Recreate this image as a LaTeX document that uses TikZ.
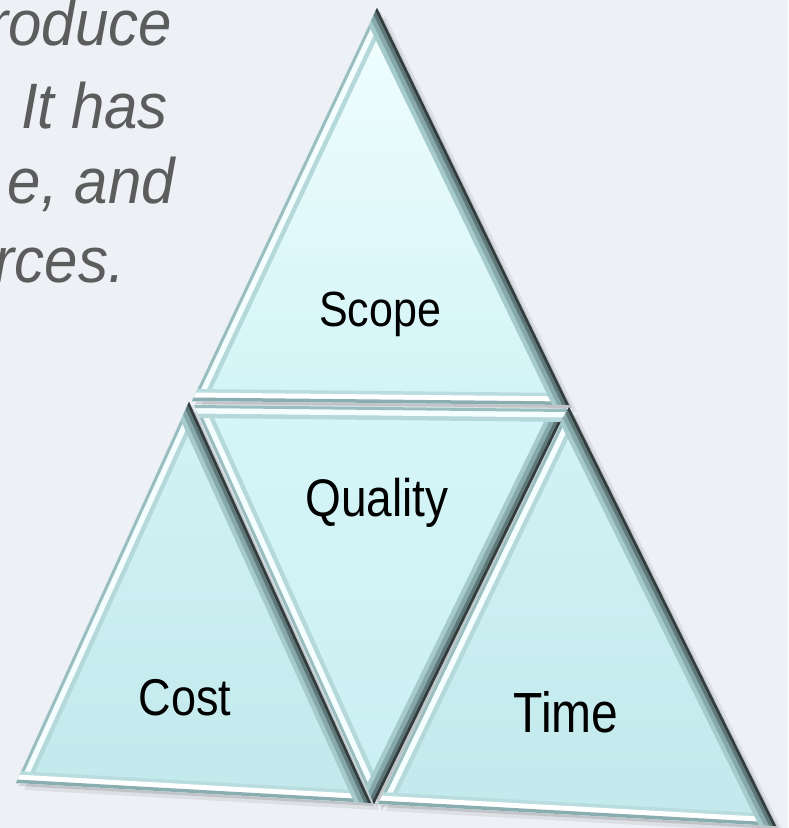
\documentclass[tikz,border=0pt]{standalone}
\usepackage{fontspec}
\setmainfont{Liberation Sans}
\usepackage{graphicx}
\definecolor{bg}{HTML}{EDF1F5}
\definecolor{sidegray}{HTML}{5C5C5C}
\definecolor{lA}{HTML}{B5D8DA}
\definecolor{lB}{HTML}{F4FEFE}
\definecolor{lC}{HTML}{9ABEC0}
\definecolor{dA}{HTML}{A6CBCD}
\definecolor{dB}{HTML}{86A8AA}
\definecolor{dC}{HTML}{5E7779}
\definecolor{dD}{HTML}{333B3C}
\definecolor{bA}{HTML}{B9DCDE}
\definecolor{bC}{HTML}{8AAEB0}
\definecolor{sTop}{HTML}{F2FEFE}
\definecolor{sBot}{HTML}{D2F4F6}
\definecolor{qTop}{HTML}{D5F6F8}
\definecolor{qBot}{HTML}{CAEFF2}
\definecolor{cTop}{HTML}{D2F3F5}
\definecolor{cBot}{HTML}{C2E9EC}
\newcommand\edgeL[2]{%
 \draw[line width=26pt, lA] (#1)--(#2);
 \draw[line width=17pt, lB] (#1)--(#2);
 \draw[line width=6pt, lC] (#1)--(#2);}
\newcommand\edgeD[2]{%
 \draw[line width=30pt, dA] (#1)--(#2);
 \draw[line width=21pt, dB] (#1)--(#2);
 \draw[line width=12pt, dC] (#1)--(#2);
 \draw[line width=5pt, dD] (#1)--(#2);}
\newcommand\edgeB[2]{%
 \draw[line width=24pt, bA] (#1)--(#2);
 \draw[line width=17pt, white] (#1)--(#2);
 \draw[line width=7pt, bC] (#1)--(#2);}
\newcommand\trishadow[3]{%
 \fill[black,opacity=0.07] ([shift={(8,7)}]#1)--([shift={(8,7)}]#2)--([shift={(8,7)}]#3)--cycle;
 \fill[black,opacity=0.12] ([shift={(3,3)}]#1)--([shift={(3,3)}]#2)--([shift={(3,3)}]#3)--cycle;}
\newcommand\bevtri[8]{%
 \begin{scope}
  \clip (#1)--(#2)--(#3)--cycle;
  \shade[top color=#7, bottom color=#8] (#1)--(#2)--(#3)--cycle;
  \csname edge#4\endcsname{#1}{#2}
  \csname edge#5\endcsname{#2}{#3}
  \csname edge#6\endcsname{#3}{#1}
 \end{scope}}
\begin{document}
\begin{tikzpicture}[x=1pt,y=-1pt,
  lbl/.style={text=black, anchor=base, inner sep=0pt},
  side/.style={font=\fontsize{60}{66}\selectfont\itshape, text=sidegray, anchor=base east, inner sep=0pt}]
\useasboundingbox (0,0) rectangle (788,828);
\fill[bg] (0,0) rectangle (788,828);
% side text
\node[side] (l1) at (172,45) {\scalebox{1}[1.07]{roduce}};
\node[side] (l2) at (168,128) {\scalebox{1}[1.07]{It has}};
\node[side] (l3) at (175,203) {\scalebox{1}[1.07]{e, and}};
\node[side] (l4) at (125,282) {\scalebox{1}[1.07]{rces.}};
% vertices
\coordinate (sA) at (377,8);
\coordinate (sL) at (192,401);
\coordinate (sR) at (569,405);
\coordinate (qL) at (194,405);
\coordinate (qR) at (567,409);
\coordinate (qB) at (374,804);
\coordinate (cA) at (189,402);
\coordinate (cL) at (16,783);
\coordinate (cR) at (371,803);
\coordinate (tA) at (569,407);
\coordinate (tL) at (378,804);
\coordinate (tR) at (776,826);
% shadows
\trishadow{sA}{sL}{sR}
\trishadow{cA}{cL}{cR}
\trishadow{qL}{qR}{qB}
\trishadow{tA}{tL}{tR}
% triangles
\bevtri{sA}{sL}{sR}{L}{B}{D}{sTop}{sBot}
\bevtri{qL}{qB}{qR}{L}{D}{L}{qTop}{qBot}
\bevtri{cA}{cL}{cR}{L}{B}{D}{cTop}{cBot}
\bevtri{tA}{tL}{tR}{L}{B}{D}{cTop}{cBot}
% labels
\node[lbl, font=\fontsize{43}{48}\selectfont] (scope) at (380,326) {\scalebox{1}[1.15]{Scope}};
\node[lbl, font=\fontsize{46}{50}\selectfont] (quality) at (377,516) {\scalebox{1}[1.15]{Quality}};
\node[lbl, font=\fontsize{45}{50}\selectfont] (cost) at (185,715) {\scalebox{1}[1.15]{Cost}};
\node[lbl, font=\fontsize{48}{52}\selectfont] (time) at (566,732) {\scalebox{1}[1.18]{Time}};
\end{tikzpicture}
\end{document}
